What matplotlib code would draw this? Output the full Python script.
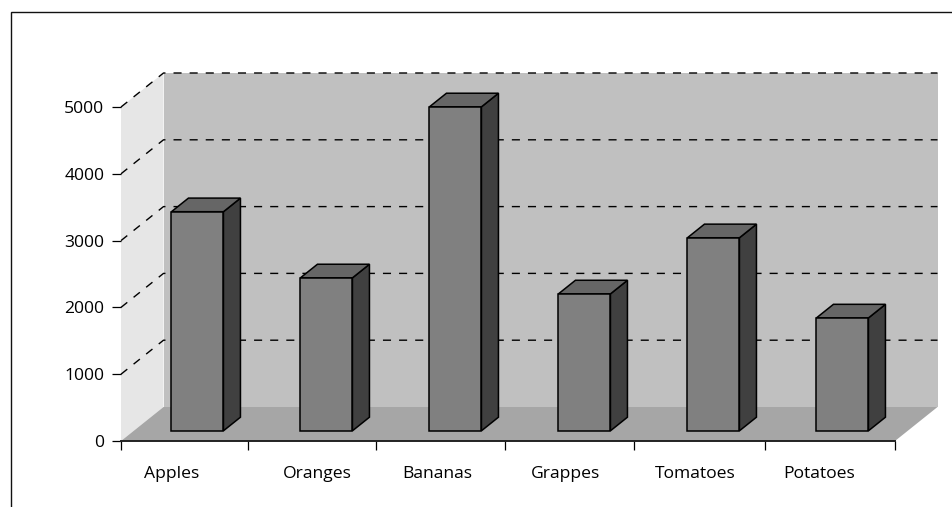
import matplotlib
matplotlib.use("Agg")
import matplotlib.pyplot as plt
from matplotlib.lines import Line2D
from matplotlib.patches import Polygon

categories = ["Apples", "Oranges", "Bananas", "Grappes", "Tomatoes", "Potatoes"]
values = [3280, 2290, 4850, 2050, 2890, 1690]
y_ticks = [0, 1000, 2000, 3000, 4000, 5000]

W, H = 952, 507
LEFT, RIGHT, BASE, TOP = 121, 895, 441, 107
CAT_PX = (RIGHT - LEFT) / len(categories)
VAL_PX = (BASE - TOP) / 5000
DX = 42.5 / CAT_PX       # full chart depth, x shift in category units
DY = 34 / VAL_PX         # full chart depth, y shift in value units
BAR_W = 52 / CAT_PX
BAR_SHIFT = -0.8 / CAT_PX
BAR_D0, BAR_D1 = 0.30, 0.70
tick_edge_px = [121, 247.5, 375.5, 505, 634, 765, 895]
label_px = [172, 317, 437, 566, 695, 819]
FONT = "Open Sans"

plt.rcParams["font.family"] = [FONT, "DejaVu Sans"]
fig = plt.figure(figsize=(W / 100, H / 100), dpi=100, facecolor="white")
ax = fig.add_axes([LEFT / W, 1 - BASE / H, (RIGHT - LEFT) / W, (BASE - TOP) / H])
ax.set_xlim(0, len(categories))
ax.set_ylim(0, 5000)
ax.patch.set_visible(False)


def P(x, y, d=0.0):
    return (x + d * DX, y + d * DY)


def face(points, color, z, edge="none", lw=0):
    ax.add_patch(Polygon(points, closed=True, facecolor=color, edgecolor=edge,
                         linewidth=lw, zorder=z, clip_on=False, joinstyle="miter"))


n = len(categories)
face([P(0, 0), P(0, 0, 1), P(0, 5000, 1), P(0, 5000)], "#e6e6e6", 1)
face([P(0, 0, 1), P(n, 0, 1), P(n, 5000, 1), P(0, 5000, 1)], "#c0c0c0", 1)
face([P(0, 0), P(n, 0), P(n, 0, 1), P(0, 0, 1)], "#a6a6a6", 2)

DASH = (0, (5.8, 5.8))
for v in y_ticks[1:]:
    xs, ys = zip(P(0, v), P(0, v, 1), P(n, v, 1))
    ax.plot(xs, ys, color="black", lw=1.0, ls=DASH, zorder=3, clip_on=False)

for i, v in enumerate(values):
    x0 = i + 0.5 - BAR_W / 2 + BAR_SHIFT
    x1 = x0 + BAR_W
    a, b = BAR_D0, BAR_D1
    kw = dict(edge="black", lw=1.1, z=5 + i)
    face([P(x1, 0, a), P(x1, 0, b), P(x1, v, b), P(x1, v, a)], "#404040", **kw)
    face([P(x0, v, a), P(x1, v, a), P(x1, v, b), P(x0, v, b)], "#666666", **kw)
    face([P(x0, 0, a), P(x1, 0, a), P(x1, v, a), P(x0, v, a)], "#808080", **kw)

for s in ("top", "right", "left"):
    ax.spines[s].set_visible(False)
ax.spines["bottom"].set_linewidth(1.4)
ax.spines["bottom"].set_color("#222222")
ax.spines["bottom"].set_zorder(4)

ax.set_yticks(y_ticks)
ax.tick_params(axis="y", length=6.5, width=0.9, pad=5.5, labelsize=12.6, colors="black")
ax.set_xticks([(p - LEFT) / CAT_PX for p in tick_edge_px])
ax.set_xticklabels([])
ax.tick_params(axis="x", which="major", length=6.5, width=0.9)
ax.set_xticks([(p - LEFT) / CAT_PX for p in label_px], minor=True)
ax.set_xticklabels(categories, minor=True, fontsize=12.6)
ax.tick_params(axis="x", which="minor", length=0, pad=18)

fig.add_artist(Line2D([10.5 / W, 10.5 / W, 1], [0, 1 - 12 / H, 1 - 12 / H],
                      color="#111111", lw=1.0, transform=fig.transFigure,
                      solid_joinstyle="miter"))

fig.savefig("out.png", dpi=100, facecolor="white")
